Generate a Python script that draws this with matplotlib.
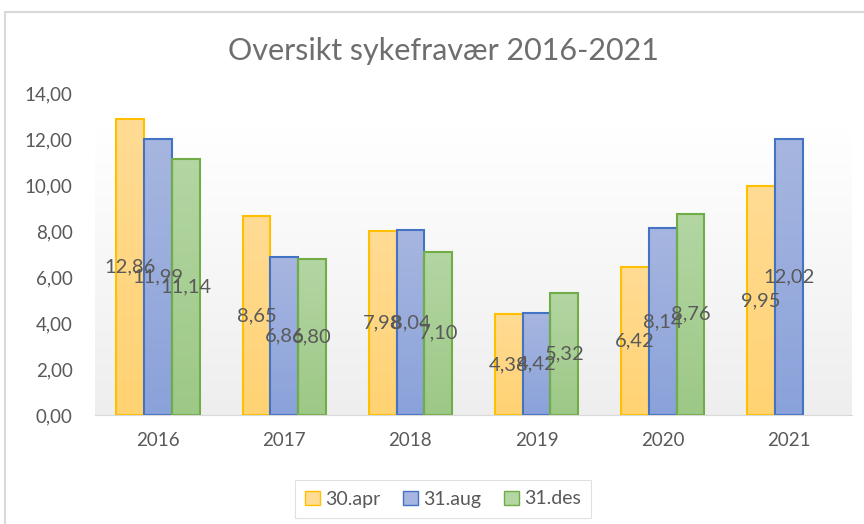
import matplotlib
matplotlib.use("Agg")
import matplotlib.pyplot as plt
import numpy as np
from matplotlib.patches import Rectangle
from matplotlib.colors import LinearSegmentedColormap

years = ["2016", "2017", "2018", "2019", "2020", "2021"]
series_names = ["30.apr", "31.aug", "31.des"]
apr = [12.86, 8.65, 7.98, 4.38, 6.42, 9.95]
aug = [11.99, 6.86, 8.04, 4.42, 8.14, 12.02]
des = [11.14, 6.80, 7.10, 5.32, 8.76, None]
yticks = [0, 2, 4, 6, 8, 10, 12, 14]

fills_top = ["#FFDB94", "#A7B6E0", "#B3D6A3"]
fills_bot = ["#FFD272", "#8AA2DA", "#9DC886"]
edges = ["#FFC000", "#4472C4", "#70AD47"]
txt = "#595959"
font = "Lato"

fig = plt.figure(figsize=(8.64, 5.24), dpi=100)
ax = fig.add_axes([95/864, 1 - 415/524, (852-95)/864, (415-93)/524])

ax.set_xlim(-0.5, 5.5)
ax.set_ylim(0, 14)

# plot-area background gradient
bg = LinearSegmentedColormap.from_list("bg", ["#EEEEEE", "#FFFFFF"])
grad = np.linspace(0, 1, 256).reshape(-1, 1)
ax.imshow(grad, cmap=bg, origin="lower", extent=[-0.5, 5.5, 0, 12.4],
          aspect="auto", zorder=0)

x = np.arange(len(years))
w = 0.22
offsets = [-w, 0, w]
for si, vals in enumerate([apr, aug, des]):
    cmap = LinearSegmentedColormap.from_list("c%d" % si, [fills_bot[si], fills_top[si]])
    for i, v in enumerate(vals):
        if v is None:
            continue
        xc = x[i] + offsets[si]
        b = ax.bar(xc, v, width=w, color="none", edgecolor=edges[si],
                   linewidth=1.5, zorder=3)[0]
        im = ax.imshow(grad, cmap=cmap, origin="lower",
                       extent=[xc - w/2, xc + w/2, 0, v], aspect="auto", zorder=2)
        im.set_clip_path(b)
        ax.text(xc, v / 2, f"{v:.2f}".replace(".", ","), ha="center", va="center",
                fontsize=14.5, color=txt, family=font, zorder=5)

# legend proxies
for si in range(3):
    ax.bar(0, 0, width=0, color=fills_top[si], edgecolor=edges[si],
           label=series_names[si])

ax.set_xlim(-0.5, 5.5)
ax.set_ylim(0, 14)
ax.set_xticks(x)
ax.set_xticklabels(years, fontsize=13.5, color=txt, family=font)
ax.set_yticks(yticks)
ax.set_yticklabels([f"{t:.2f}".replace(".", ",") for t in yticks],
                   fontsize=13.5, color=txt, family=font)
ax.tick_params(length=0)
ax.tick_params(axis="x", pad=12)
ax.tick_params(axis="y", pad=16)
for s in ["top", "right", "left"]:
    ax.spines[s].set_visible(False)
ax.spines["bottom"].set_color("#D9D9D9")
ax.spines["bottom"].set_zorder(4)
ax.patch.set_alpha(0)

fig.text(443/864, 1 - 51/524, "Oversikt sykefravær 2016-2021", ha="center",
         va="center", fontsize=22, color="#6E6E6E", family=font)

leg = ax.legend(loc="center", bbox_to_anchor=(443/864, 1 - 499/524),
                bbox_transform=fig.transFigure, ncol=3, frameon=True,
                fontsize=14, handlelength=0.75, handleheight=0.75,
                handletextpad=0.25, columnspacing=1.2, borderpad=0.55,
                fancybox=False)
leg.get_frame().set_edgecolor("#D9D9D9")
leg.get_frame().set_linewidth(0.8)
for t in leg.get_texts():
    t.set_color(txt)
    t.set_family(font)

fig.patches.append(Rectangle((5/864, -0.05), 1.0, 1 - 12/524 + 0.05,
                             transform=fig.transFigure, fill=False,
                             edgecolor="#D9D9D9", linewidth=1.5))

fig.savefig("out.png", dpi=100)
